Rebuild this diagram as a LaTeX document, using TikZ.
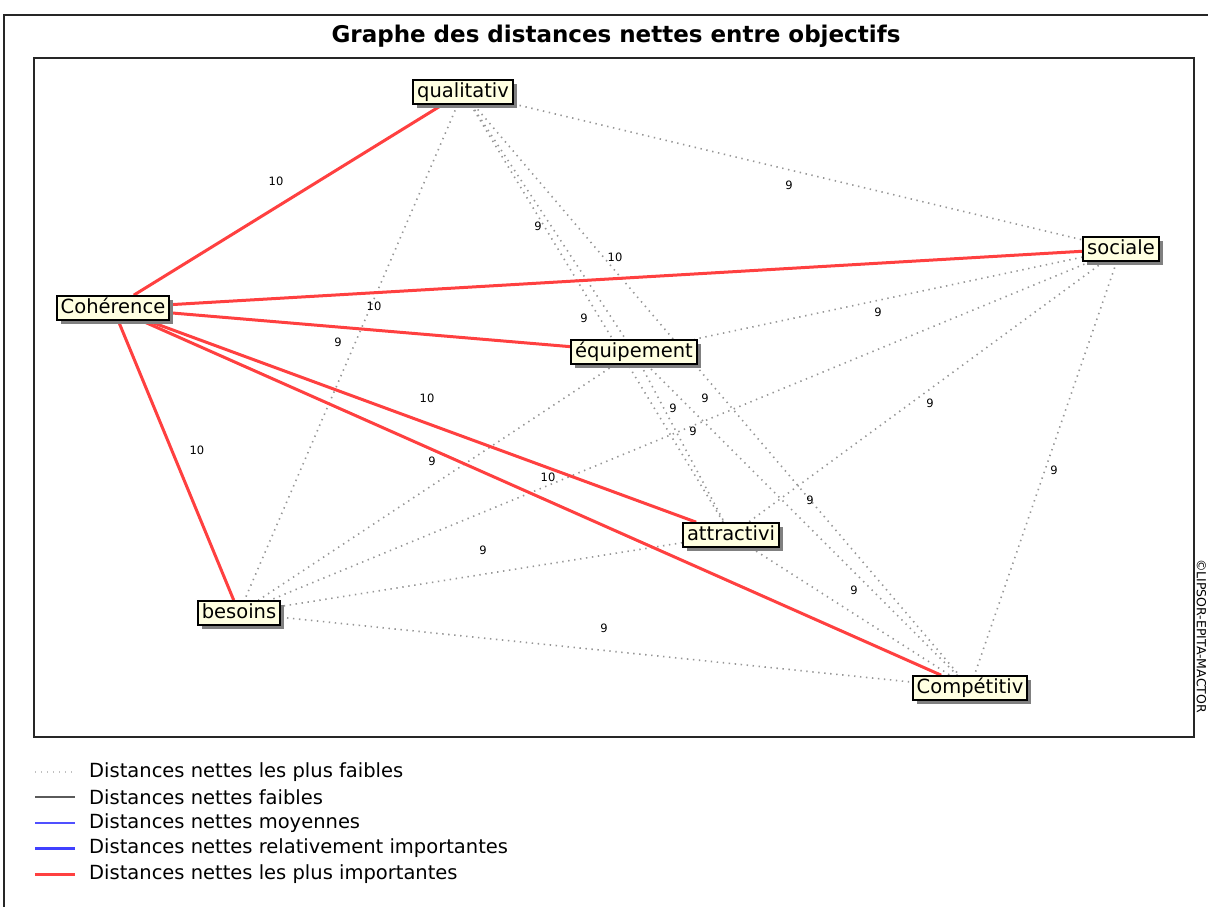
\documentclass[tikz,border=0pt]{standalone}
\usepackage{fontspec}
\setmainfont{DejaVu Sans}
\usetikzlibrary{shadows}

\definecolor{tipfill}{RGB}{255,255,225}
\definecolor{strongred}{RGB}{255,64,64}
\definecolor{dotgray}{RGB}{150,150,150}
\definecolor{weakgray}{RGB}{90,90,90}
\definecolor{medblue}{RGB}{80,80,255}
\definecolor{bigblue}{RGB}{64,64,255}

\pgfdeclarelayer{back}
\pgfdeclarelayer{edges}
\pgfsetlayers{back,edges,main}

\begin{document}
\begin{tikzpicture}[x=1pt,y=-1pt,
  obj/.style={draw=black, line width=1.7pt, fill=tipfill,
    font=\fontsize{19.5}{19.5}\selectfont, inner xsep=4pt, inner ysep=0pt,
    minimum height=24pt, text height=14.5pt, text depth=4pt,
    drop shadow={shadow xshift=4pt, shadow yshift=-4pt, fill=black!50, opacity=1}},
  strong/.style={strongred, line width=3pt},
  weakest/.style={dotgray, line width=1.6pt, dash pattern=on 1.4pt off 4.6pt},
  weak/.style={weakgray, line width=1.5pt},
  medium/.style={medblue, line width=1.5pt},
  relimp/.style={bigblue, line width=3pt},
  val/.style={font=\fontsize{11.5}{11.5}\selectfont, inner sep=1pt},
  legtext/.style={font=\fontsize{19.5}{19.5}\selectfont, anchor=west, inner sep=0pt},
]
\useasboundingbox (0,0) rectangle (1208,907);
\begin{pgfonlayer}{back}
  \fill[white] (0,0) rectangle (1208,907);
\end{pgfonlayer}

% outer frame and plot area
\draw[line width=2pt, black!85] (4,910) -- (4,15) -- (1212,15);
\draw[line width=2pt, black!85] (34,58) rectangle (1194,737);

% title
\node[font=\bfseries\fontsize{23}{23}\selectfont] (title) at (616,36)
  {Graphe des distances nettes entre objectifs};

% objectives
\node[obj] (qual) at (463,92)  {qualitativ};
\node[obj] (soc)  at (1121,249) {sociale};
\node[obj] (coh)  at (113,308) {Cohérence};
\node[obj] (equ)  at (634,352) {équipement};
\node[obj] (attr) at (731,535) {attractivi};
\node[obj] (bes)  at (239,613) {besoins};
\node[obj] (comp) at (970,688) {Compétitiv};

\begin{pgfonlayer}{edges}
  % weakest net distances
  \draw[weakest] (qual) -- (soc);
  \draw[weakest] (qual) -- (equ);
  \draw[weakest] (qual) -- (attr);
  \draw[weakest] (qual) -- (bes);
  \draw[weakest] (qual) -- (comp);
  \draw[weakest] (soc) -- (equ);
  \draw[weakest] (soc) -- (attr);
  \draw[weakest] (soc) -- (bes);
  \draw[weakest] (soc) -- (comp);
  \draw[weakest] (equ) -- (attr);
  \draw[weakest] (equ) -- (bes);
  \draw[weakest] (equ) -- (comp);
  \draw[weakest] (attr) -- (bes);
  \draw[weakest] (attr) -- (comp);
  \draw[weakest] (bes) -- (comp);
  % strongest net distances
  \draw[strong] (coh) -- (qual);
  \draw[strong] (coh) -- (soc);
  \draw[strong] (coh) -- (equ);
  \draw[strong] (coh) -- (attr);
  \draw[strong] (coh) -- (comp);
  \draw[strong] (coh) -- (bes);
\end{pgfonlayer}

% distance values
\node[val] (v-coh-qual) at (276,181) {10};
\node[val] (v-coh-soc)  at (615,257) {10};
\node[val] (v-coh-equ)  at (374,306) {10};
\node[val] (v-coh-attr) at (427,398) {10};
\node[val] (v-coh-comp) at (548,477) {10};
\node[val] (v-coh-bes)  at (197,450) {10};
\node[val] (v-qual-soc)  at (789,185) {9};
\node[val] (v-qual-equ)  at (538,226) {9};
\node[val] (v-qual-attr) at (584,318) {9};
\node[val] (v-qual-bes)  at (338,342) {9};
\node[val] (v-qual-comp) at (705,398) {9};
\node[val] (v-soc-equ)   at (878,312) {9};
\node[val] (v-soc-attr)  at (930,403) {9};
\node[val] (v-soc-bes)   at (693,431) {9};
\node[val] (v-soc-comp)  at (1054,470) {9};
\node[val] (v-equ-attr)  at (673,408) {9};
\node[val] (v-equ-bes)   at (432,461) {9};
\node[val] (v-equ-comp)  at (810,500) {9};
\node[val] (v-attr-bes)  at (483,550) {9};
\node[val] (v-attr-comp) at (854,590) {9};
\node[val] (v-bes-comp)  at (604,628) {9};

% copyright
\node[rotate=-90, font=\fontsize{12.5}{12.5}\selectfont, inner sep=0pt] (copy) at (1201.5,636)
  {©LIPSOR-EPITA-MACTOR};

% legend
\coordinate (la1) at (35,772); \coordinate (lb1) at (75,772);
\coordinate (la2) at (35,797); \coordinate (lb2) at (75,797);
\coordinate (la3) at (35,823); \coordinate (lb3) at (75,823);
\coordinate (la4) at (35,848); \coordinate (lb4) at (75,848);
\coordinate (la5) at (35,874); \coordinate (lb5) at (75,874);
\draw[weakest, dotgray!60] (la1) -- (lb1);
\draw[weak] (la2) -- (lb2);
\draw[medium] (la3) -- (lb3);
\draw[relimp] (la4) -- (lb4);
\draw[strong] (la5) -- (lb5);
\node[legtext] (t1) at (89,772) {Distances nettes les plus faibles};
\node[legtext] (t2) at (89,797) {Distances nettes faibles};
\node[legtext] (t3) at (89,823) {Distances nettes moyennes};
\node[legtext] (t4) at (89,848) {Distances nettes relativement importantes};
\node[legtext] (t5) at (89,874) {Distances nettes les plus importantes};
\end{tikzpicture}
\end{document}
